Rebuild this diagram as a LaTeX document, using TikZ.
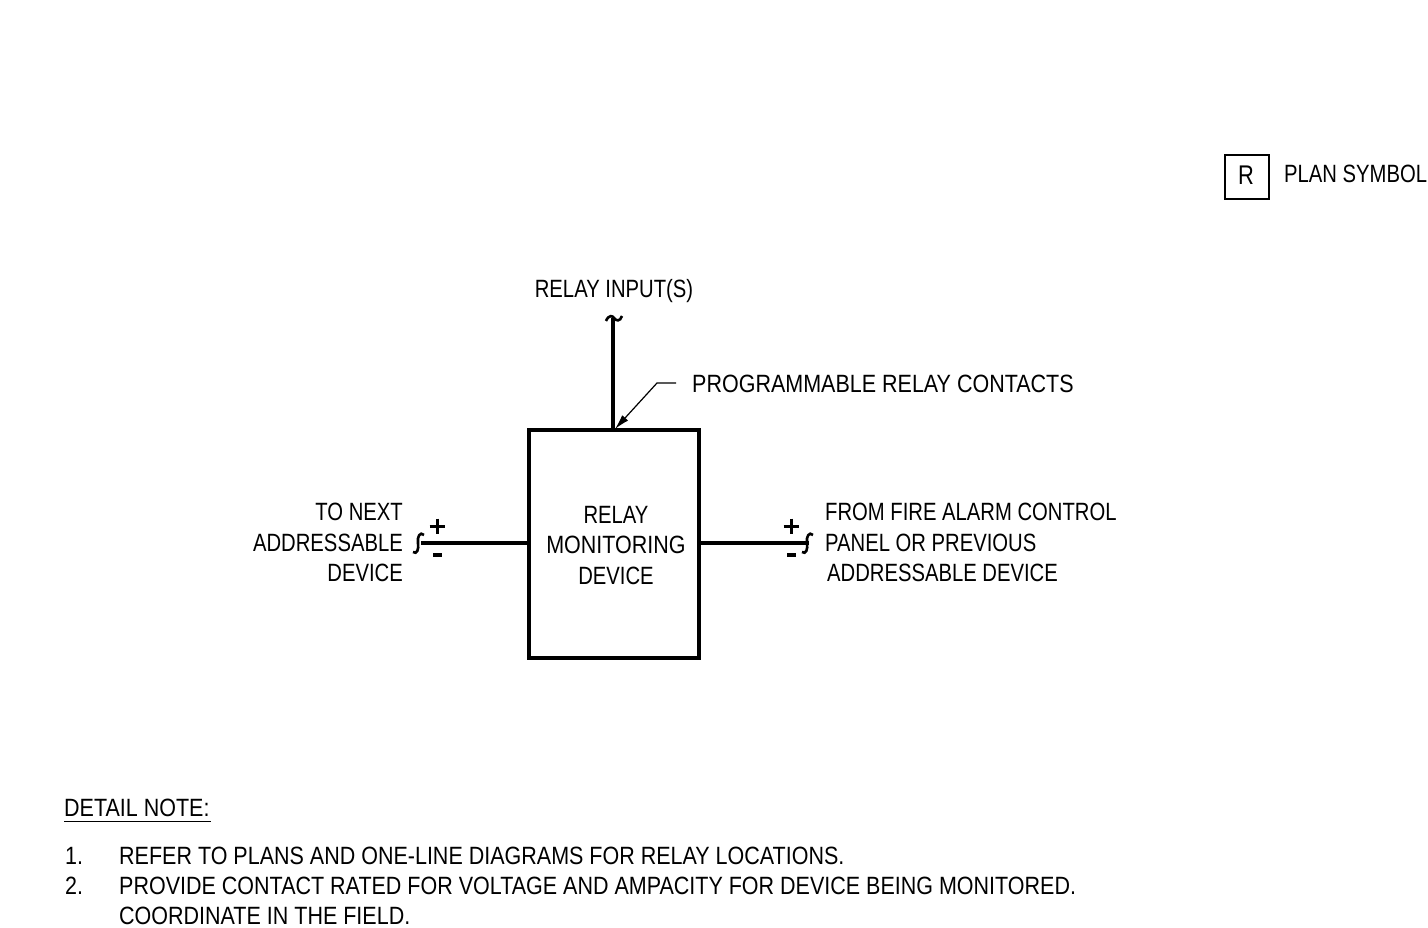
\documentclass[tikz,border=0pt]{standalone}
\usepackage{fontspec}
\setmainfont[FakeStretch=0.81]{Liberation Sans}
\newfontfamily\widerfont[FakeStretch=0.86]{Liberation Sans}
\usetikzlibrary{arrows.meta}
\begin{document}
\begin{tikzpicture}[x=1pt,y=-1pt,
  txt/.style={inner sep=0pt,font=\fontsize{25}{30}\selectfont},
  wtxt/.style={inner sep=0pt,font=\widerfont\fontsize{25}{30}\selectfont},
  wire/.style={line width=3.2pt},
  brk/.style={line width=2.6pt},
  sign/.style={line width=3pt},
  thin/.style={line width=1.2pt}]
\useasboundingbox (0,0) rectangle (1428,928);
% box
\node[draw,line width=3.2pt,minimum width=170pt,minimum height=228pt,inner sep=0pt] (box) at (614,544) {};
\node[txt,anchor=base] (b1) at (616,523) {RELAY};
\node[wtxt,anchor=base] (b2) at (616,553) {MONITORING};
\node[txt,anchor=base] (b3) at (616,584) {DEVICE};
% top input
\coordinate (top) at (613,318);
\draw[wire] (613,430) -- (top);
\draw[brk] (606,321) .. controls (609,314) and (613,316) .. (614,318) .. controls (616,321) and (620,322) .. (622,316);
\node[txt,anchor=base] (ri) at (614,298) {RELAY INPUT(S)};
% leader
\coordinate (l1) at (676,383);
\coordinate (l2) at (657,383);
\coordinate (l3) at (615,429);
\draw[thin,-{Latex[length=15pt,width=8pt]}] (l1) -- (l2) -- (l3);
\node[wtxt,anchor=base west] (prc) at (692,392) {PROGRAMMABLE RELAY CONTACTS};
% left wire
\coordinate (lw) at (421,543);
\draw[wire] (529,543) -- (lw);
\draw[brk] (424,535) .. controls (420,531) and (417,537) .. (418,543) .. controls (419,549) and (417,555) .. (413,552);
\draw[sign] (429.5,526) -- (444.5,526) (437,518.5) -- (437,533.5);
\draw[line width=4pt] (433,555) -- (442,555);
\node[txt,anchor=base east] (t1) at (403,520) {TO NEXT};
\node[txt,anchor=base east] (t2) at (403,551) {ADDRESSABLE};
\node[txt,anchor=base east] (t3) at (403,581) {DEVICE};
% right wire
\coordinate (rw) at (809,543);
\draw[wire] (699,543) -- (rw);
\draw[brk] (813,535) .. controls (809,531) and (806,537) .. (807,543) .. controls (808,549) and (806,555) .. (802,552);
\draw[sign] (783.5,526) -- (798.5,526) (791,518.5) -- (791,533.5);
\draw[line width=4pt] (787,555) -- (796,555);
\node[txt,anchor=base west] (f1) at (825,520) {FROM FIRE ALARM CONTROL};
\node[txt,anchor=base west] (f2) at (825,551) {PANEL OR PREVIOUS};
\node[txt,anchor=base west] (f3) at (827,581) {ADDRESSABLE DEVICE};
% plan symbol
\node[draw,line width=2.4pt,minimum width=44pt,minimum height=44pt,inner sep=0pt] (rbox) at (1247,177) {};
\node[inner sep=0pt,font=\fontsize{27}{30}\selectfont,anchor=base] (rl) at (1246,185) {R};
\node[txt,anchor=base west] (ps) at (1284,183) {PLAN SYMBOL};
% notes
\node[wtxt,anchor=base west] (dn) at (64,816) {DETAIL NOTE:};
\draw[line width=1.5pt] (dn.south west) ++(0,5) -- ++(147,0);
\node[wtxt,anchor=base west] (n1) at (65,864) {1.};
\node[wtxt,anchor=base west] (n1t) at (119,864) {REFER TO PLANS AND ONE-LINE DIAGRAMS FOR RELAY LOCATIONS.};
\node[wtxt,anchor=base west] (n2) at (65,894) {2.};
\node[wtxt,anchor=base west] (n2t) at (119,894) {PROVIDE CONTACT RATED FOR VOLTAGE AND AMPACITY FOR DEVICE BEING MONITORED.};
\node[wtxt,anchor=base west] (n3t) at (119,924) {COORDINATE IN THE FIELD.};
\end{tikzpicture}
\end{document}
